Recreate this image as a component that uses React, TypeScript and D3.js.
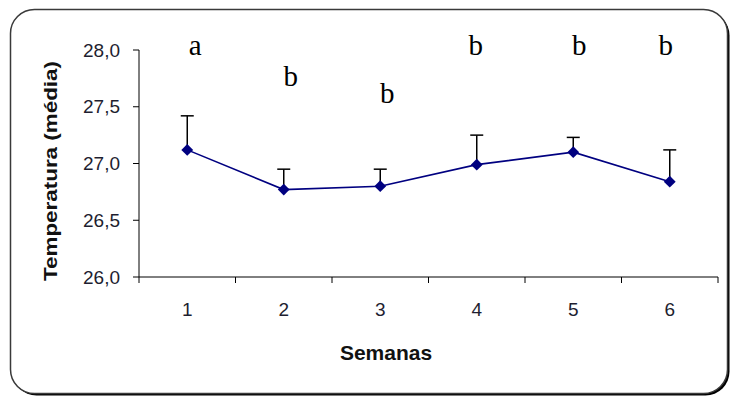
import React from "react";
import * as d3 from "d3";

// Weekly mean temperature with upper error bars and significance letters
const semanas = ["1", "2", "3", "4", "5", "6"];
const mediaTemp = [27.12, 26.77, 26.8, 26.99, 27.1, 26.84];
const erroTemp = [0.3, 0.18, 0.15, 0.26, 0.13, 0.28];
const letras = ["a", "b", "b", "b", "b", "b"];
const nivelLetras = [27.96, 27.68, 27.53, 27.96, 27.96, 27.96];
const yTicks = [26.0, 26.5, 27.0, 27.5, 28.0];

const W = 731;
const H = 398;
const plot = { left: 139, right: 718, top: 50, bottom: 277 };
const letraDx = [8, 7, 7, -1, 6, -4];

export default function App() {
  const x = d3
    .scaleBand<string>()
    .domain(semanas)
    .range([plot.left, plot.right])
    .paddingInner(0)
    .paddingOuter(0);
  const y = d3.scaleLinear().domain([26, 28]).range([plot.bottom, plot.top]);
  const cx = (s: string) => (x(s) ?? 0) + x.bandwidth() / 2;

  const line = d3
    .line<number>()
    .x((_, i) => cx(semanas[i]))
    .y((v) => y(v));

  // square marker turned 45° gives an even diamond
  const diamond = d3.symbol(d3.symbolSquare, 70)();
  const fmt = (v: number) => v.toFixed(1).replace(".", ",");
  const boundaries = [...semanas.map((s) => x(s) ?? 0), plot.right];

  return (
    <svg
      width={W}
      height={H}
      style={{ position: "absolute", left: 0, top: 0, background: "#fff" }}
      fontFamily="Arial, 'Liberation Sans', sans-serif"
    >
      {/* frame with drop shadow */}
      <rect x={12.5} y={11.5} width={717} height={384} rx={24} fill="#000" />
      <rect
        x={10.5}
        y={9.5}
        width={717}
        height={384}
        rx={24}
        fill="#fff"
        stroke="#3a3a3a"
        strokeWidth={1.5}
      />

      {/* y axis */}
      <line x1={plot.left} x2={plot.left} y1={plot.top} y2={plot.bottom} stroke="#000" />
      {yTicks.map((t) => (
        <g key={t}>
          <line x1={plot.left - 6} x2={plot.left} y1={y(t)} y2={y(t)} stroke="#000" />
          <text
            x={120}
            y={y(t) + 6.5}
            textAnchor="end"
            fontSize={19}
            fill="#1e1e30"
          >
            {fmt(t)}
          </text>
        </g>
      ))}

      {/* x axis */}
      <line x1={plot.left} x2={plot.right} y1={plot.bottom} y2={plot.bottom} stroke="#000" />
      {boundaries.map((b, i) => (
        <line key={i} x1={b} x2={b} y1={plot.bottom} y2={plot.bottom + 6} stroke="#000" />
      ))}
      {semanas.map((s) => (
        <text key={s} x={cx(s)} y={316} textAnchor="middle" fontSize={19} fill="#1e1e30">
          {s}
        </text>
      ))}

      {/* axis titles */}
      <text x={386} y={360} textAnchor="middle" fontSize={21} fontWeight="bold" fill="#111">
        Semanas
      </text>
      <text
        transform="translate(57,171) rotate(-90)"
        textAnchor="middle"
        fontSize={19}
        fontWeight="bold"
        fill="#111"
        textLength={220}
        lengthAdjust="spacingAndGlyphs"
      >
        Temperatura (média)
      </text>

      {/* error bars */}
      {mediaTemp.map((m, i) => {
        const px = cx(semanas[i]);
        const top = y(m + erroTemp[i]);
        return (
          <g key={i} stroke="#000" strokeWidth={1.5}>
            <line x1={px} x2={px} y1={y(m)} y2={top} />
            <line x1={px - 6.5} x2={px + 6.5} y1={top} y2={top} />
          </g>
        );
      })}

      {/* mean line and markers */}
      <path d={line(mediaTemp) ?? ""} fill="none" stroke="#000080" strokeWidth={1.6} />
      {mediaTemp.map((m, i) => (
        <path
          key={i}
          d={diamond ?? ""}
          transform={`translate(${cx(semanas[i])},${y(m)}) rotate(45)`}
          fill="#000080"
        />
      ))}

      {/* significance letters */}
      {letras.map((l, i) => (
        <text
          key={i}
          x={cx(semanas[i]) + letraDx[i]}
          y={y(nivelLetras[i])}
          textAnchor="middle"
          fontSize={29}
          fontFamily="'Liberation Serif', 'Times New Roman', serif"
          fill="#000"
        >
          {l}
        </text>
      ))}
    </svg>
  );
}
